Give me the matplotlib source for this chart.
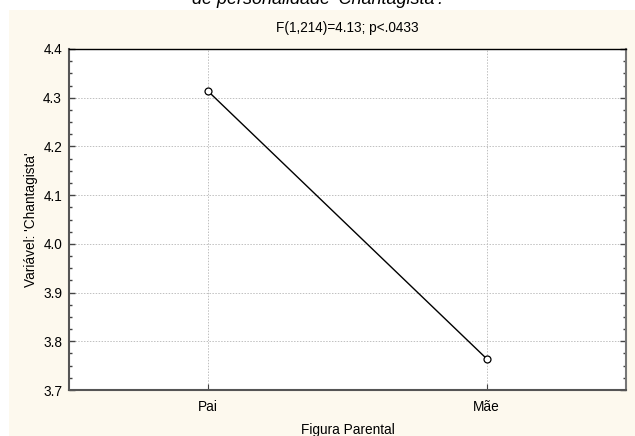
import numpy as np
import matplotlib.pyplot as plt
from matplotlib.ticker import MultipleLocator
from matplotlib.patches import Rectangle

plt.rcParams['font.family'] = ['Liberation Sans', 'DejaVu Sans']

grupos = ['Pai', 'Mãe']
medias = [4.313, 3.764]
yticks = [3.7, 3.8, 3.9, 4.0, 4.1, 4.2, 4.3, 4.4]

fig = plt.figure(figsize=(6.35, 4.36), dpi=100)
fig.patch.set_facecolor('white')
# fundo bege do painel
fig.patches.append(Rectangle((9 / 635, 0), 1, 1 - 10 / 436, transform=fig.transFigure,
                             facecolor='#fdf9ee', edgecolor='none', zorder=-10))

ax = fig.add_axes([69 / 635, 1 - 390 / 436, (626 - 69) / 635, (390 - 49) / 436])
ax.set_facecolor('white')

x = np.arange(len(grupos))
ax.plot(x, medias, color='black', lw=1, marker='o', ms=5,
        markerfacecolor='white', markeredgecolor='black', markeredgewidth=0.9, zorder=3)

ax.set_xlim(-0.5, 1.5)
ax.set_ylim(3.7, 4.4)
ax.set_xticks(x)
ax.set_xticklabels(grupos, fontsize=9.8)
ax.set_yticks(yticks)
ax.set_yticklabels(['%.1f' % v for v in yticks], fontsize=9.8)
ax.yaxis.set_minor_locator(MultipleLocator(0.025))

ax.tick_params(axis='y', which='both', direction='in', right=True, left=True,
               color='#444444', width=1, pad=5)
ax.tick_params(axis='y', which='major', length=4)
ax.tick_params(axis='y', which='minor', length=2.5)
ax.tick_params(axis='x', direction='in', length=4, color='#444444', top=False, pad=7)

ax.grid(True, which='major', linestyle=(0, (1.5, 1.5)), color='#c0c0c0', lw=0.7)

for lado in ['left', 'bottom']:
    ax.spines[lado].set_linewidth(1.5)
    ax.spines[lado].set_color('#555555')
ax.spines['right'].set_linewidth(1.5)
ax.spines['right'].set_color('#777777')
ax.spines['top'].set_linewidth(1)
ax.spines['top'].set_color('black')

ax.set_title('F(1,214)=4.13; p<.0433', fontsize=9.8, pad=12)
ax.set_xlabel('Figura Parental', fontsize=9.8, labelpad=7)
ax.set_ylabel("Variável: 'Chantagista'", fontsize=9.8, labelpad=4)

fig.text(0.5, 1.0, "de personalidade 'Chantagista':", ha='center', va='center',
         fontsize=13, style='italic')

fig.savefig('out.png', dpi=100)
